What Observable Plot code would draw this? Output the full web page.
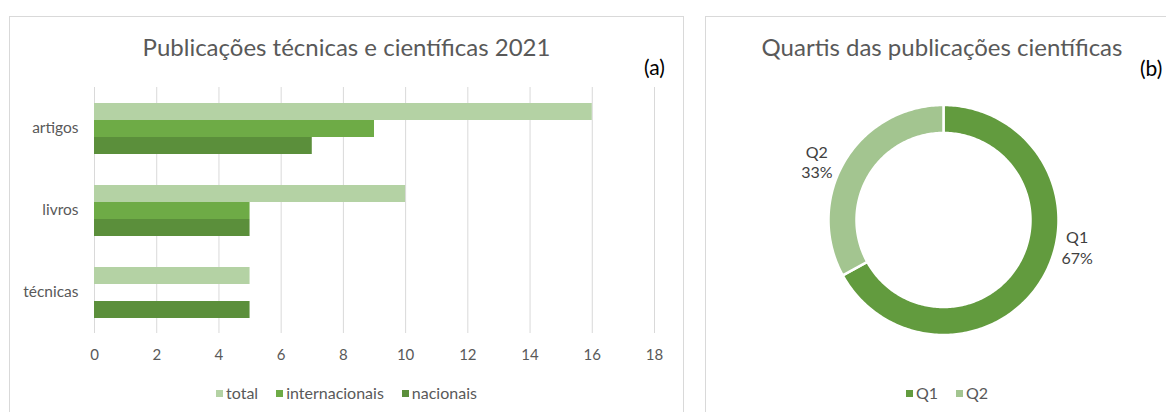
<!DOCTYPE html>
<html>
<head>
<meta charset="utf-8">
<script src="https://cdn.jsdelivr.net/npm/d3@7"></script>
<script src="https://cdn.jsdelivr.net/npm/@observablehq/plot@0.6"></script>
<style>
  body { margin: 0; background: #fff; font-family: Lato, "Open Sans", sans-serif; width: 1166px; height: 412px; overflow: hidden; position: relative; }
  .panel { position: absolute; border: 1px solid #d9d9d9; box-sizing: border-box; }
  .title { position: absolute; text-align: center; color: #595959; font-size: 24px; line-height: 30px; white-space: nowrap; }
  .tag { position: absolute; color: #000; font-size: 21px; line-height: 24px; white-space: nowrap; }
  .legend { position: absolute; display: flex; justify-content: center; align-items: center; color: #595959; font-size: 16px; line-height: 18px; }
  .legend .item { display: flex; align-items: center; margin: 0 9px; }
  .legend .sw { width: 7px; height: 7px; margin-right: 3px; }
  .chart { position: absolute; }
</style>
</head>
<body>
<div class="panel" style="left:9px;top:16px;width:675px;height:420px"></div>
<div class="panel" style="left:705px;top:16px;width:480px;height:420px"></div>

<div class="title" style="left:9px;width:675px;top:32px">Publicações técnicas e científicas 2021</div>
<div class="tag" style="left:644px;top:55px">(a)</div>
<div class="chart" id="bars" style="left:10px;top:70px"></div>
<div class="legend" id="legend-a" style="left:9px;width:675px;top:384px"></div>

<div class="title" style="left:705px;width:474px;top:32px">Quartis das publicações científicas</div>
<div class="tag" style="left:1140px;top:56px">(b)</div>
<div class="chart" id="donut" style="left:773px;top:90px"></div>
<div class="legend" id="legend-b" style="left:705px;width:484px;top:384px"></div>

<script>
// Publications per category and origin
const categories = ["artigos", "livros", "técnicas"];
const seriesNames = ["total", "internacionais", "nacionais"];
const totalValues = [16, 10, 5];
const internacionaisValues = [9, 5, null];
const nacionaisValues = [7, 5, 5];
const xTicks = [0, 2, 4, 6, 8, 10, 12, 14, 16, 18];
const seriesColors = ["#b4d2a4", "#6eab46", "#5b8f3b"];

// Quartile shares of the scientific publications (%)
const quartis = ["Q1", "Q2"];
const quartilShares = [67, 33];
const quartilColors = ["#629b3e", "#a3c590"];

// ---- (a) grouped horizontal bars ----
const valuesBySeries = [totalValues, internacionaisValues, nacionaisValues];
const rows = categories.flatMap((category, i) =>
  seriesNames.map((series, j) => ({category, series, value: valuesBySeries[j][i]}))
).filter(d => d.value != null);

const bars = Plot.plot({
  width: 673,
  height: 300,
  marginLeft: 84,
  marginRight: 29,
  marginTop: 16,
  marginBottom: 37,
  style: {fontFamily: "Lato, 'Open Sans', sans-serif", fontSize: "15px", color: "#595959", background: "transparent"},
  x: {domain: [0, 18], ticks: xTicks, tickSize: 0, tickPadding: 16, label: null},
  fy: {domain: categories, padding: 0, axis: "left", tickSize: 0, tickPadding: 16, label: null},
  y: {domain: seriesNames, axis: null, paddingInner: 0, paddingOuter: 0.9},
  color: {domain: seriesNames, range: seriesColors},
  marks: [
    Plot.ruleX(xTicks, {stroke: "#d9d9d9", strokeWidth: 1}),
    Plot.barX(rows, {x: "value", y: "series", fy: "category", fill: "series"})
  ]
});
bars.querySelectorAll("[aria-label='fy-axis tick label'] text, [aria-label='fy-axis'] text").forEach(t => t.style.fontSize = "15.5px");
document.getElementById("bars").append(bars);

function buildLegend(el, names, colors) {
  names.forEach((name, i) => {
    const item = document.createElement("span");
    item.className = "item";
    const sw = document.createElement("span");
    sw.className = "sw";
    sw.style.background = colors[i];
    item.append(sw, document.createTextNode(name));
    el.append(item);
  });
}
buildLegend(document.getElementById("legend-a"), seriesNames, seriesColors);

// ---- (b) doughnut ----
const outerR = 115, innerR = 87;
const shareSum = d3.sum(quartilShares);
let acc = 0;
const slices = quartis.map((q, i) => {
  const a0 = acc / shareSum * 2 * Math.PI;
  acc += quartilShares[i];
  const a1 = acc / shareSum * 2 * Math.PI;
  return {q, share: quartilShares[i], a0, a1};
});

// ring outline of each slice: outer arc forward, inner arc back, closed
const ringPoints = slices.flatMap(({q, a0, a1}) => {
  const n = Math.max(2, Math.ceil((a1 - a0) / (Math.PI / 180)));
  const pts = [];
  for (let k = 0; k <= n; ++k) {
    const a = a0 + (a1 - a0) * k / n;
    pts.push({q, x: outerR * Math.sin(a), y: outerR * Math.cos(a)});
  }
  for (let k = n; k >= 0; --k) {
    const a = a0 + (a1 - a0) * k / n;
    pts.push({q, x: innerR * Math.sin(a), y: innerR * Math.cos(a)});
  }
  pts.push(pts[0]);
  return pts;
});

// labels sit outside the ring near the middle of each slice
const labelRadius = 139;
const labelNudge = {Q1: [14, 44], Q2: [-7, -12]};
const labels = slices.map(({q, share, a0, a1}) => {
  const m = (a0 + a1) / 2;
  const [nx, ny] = labelNudge[q] || [0, 0];
  return {
    q,
    text: `${q}\n${share}%`,
    x: labelRadius * Math.sin(m) + nx,
    y: labelRadius * Math.cos(m) + ny
  };
});

const donut = Plot.plot({
  width: 340,
  height: 260,
  margin: 0,
  style: {fontFamily: "Lato, 'Open Sans', sans-serif", fontSize: "16px", color: "#404040", background: "transparent"},
  x: {domain: [-170, 170], axis: null},
  y: {domain: [-130.5, 129.5], axis: null},
  color: {domain: quartis, range: quartilColors},
  marks: [
    Plot.line(ringPoints, {x: "x", y: "y", z: "q", fill: "q", stroke: "white", strokeWidth: 2.5, curve: "linear"}),
    Plot.text(labels, {x: "x", y: "y", text: "text", lineHeight: 1.3, fill: "#404040", fontSize: 16})
  ]
});
document.getElementById("donut").append(donut);
buildLegend(document.getElementById("legend-b"), quartis, quartilColors);
</script>
</body>
</html>
